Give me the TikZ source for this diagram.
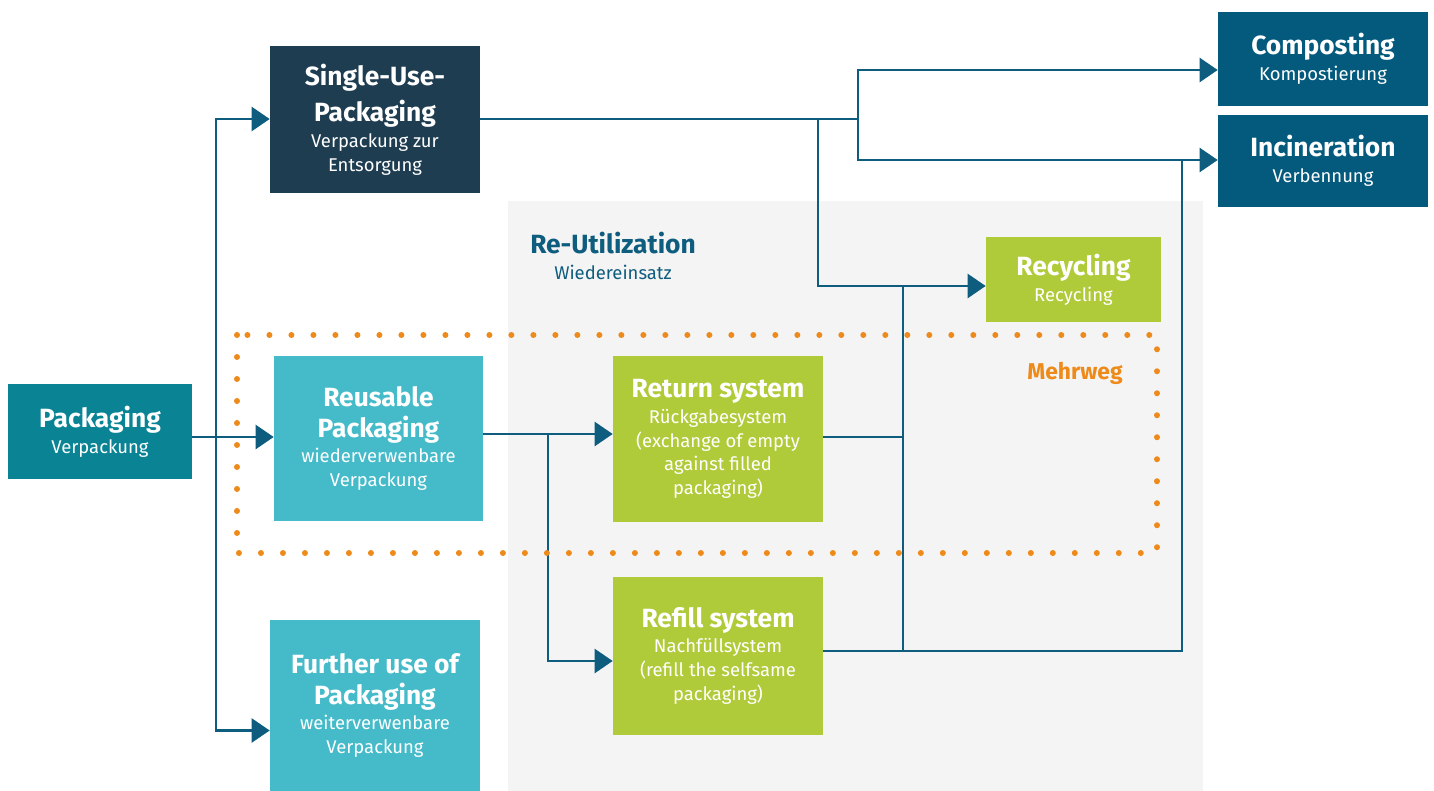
\documentclass[tikz,border=0pt]{standalone}
\usepackage{fontspec}
\setmainfont{Fira Sans}
\usetikzlibrary{arrows.meta,positioning}
\definecolor{linie}{HTML}{0E5C7E}
\definecolor{petrol}{HTML}{0A8495}
\definecolor{nacht}{HTML}{1E3D51}
\definecolor{tuerkis}{HTML}{45BBCA}
\definecolor{gruen}{HTML}{B0CB3A}
\definecolor{ozean}{HTML}{045A7D}
\definecolor{grau}{HTML}{F4F4F4}
\definecolor{orange}{HTML}{EE8A1A}
\newcommand{\titel}[1]{{\fontsize{15}{17.5}\selectfont\bfseries #1}}
\tikzset{
  kasten/.style={rectangle,draw=none,text=white,align=center,inner sep=2pt,
    font=\fontsize{10.5}{13.6}\selectfont},
  pfeil/.style={draw=linie,line width=0.05cm,-{Triangle[length=0.36cm,width=0.48cm]}},
  linie/.style={draw=linie,line width=0.05cm}
}
\begin{document}
\begin{tikzpicture}[x=0.02cm,y=-0.02cm]
\useasboundingbox (0,0) rectangle (1434,791);
\fill[grau] (508,201) rectangle (1203,791);
\node[align=center,text=linie,font=\fontsize{10.5}{13.6}\selectfont] (reu) at (613,256) {\titel{Re-Utilization}\\[1pt]Wiedereinsatz};

% Verpackungen
\node[kasten,fill=petrol,minimum width=3.68cm,minimum height=1.9cm] (pk) at (100,431.5) {\titel{Packaging}\\[1pt]Verpackung};
\node[kasten,fill=nacht,minimum width=4.2cm,minimum height=2.94cm] (su) at (375,119.5) {\titel{Single-Use-}\\[4pt]\titel{Packaging}\\[1pt]Verpackung zur\\Entsorgung};
\node[kasten,fill=tuerkis,minimum width=4.18cm,minimum height=3.3cm] (ru) at (378.5,438.5) {\titel{Reusable}\\[4pt]\titel{Packaging}\\[1pt]wiederverwenbare\\Verpackung};
\node[kasten,fill=tuerkis,minimum width=4.2cm,minimum height=3.42cm] (fu) at (375,705.5) {\titel{Further use of}\\[4pt]\titel{Packaging}\\[1pt]weiterverwenbare\\Verpackung};

% Systeme
\node[kasten,fill=gruen,minimum width=4.2cm,minimum height=3.32cm] (rs) at (718,439) {\titel{Return system}\\[1pt]R\"uckgabesystem\\(exchange of empty\\against filled\\packaging)};
\node[kasten,fill=gruen,minimum width=4.2cm,minimum height=3.16cm] (fs) at (718,656) {\titel{Refill system}\\[1pt]Nachf\"ullsystem\\(refill the selfsame\\packaging)};

% Verwertung
\node[kasten,fill=gruen,minimum width=3.5cm,minimum height=1.7cm] (rc) at (1073.5,279.5) {\titel{Recycling}\\[1pt]Recycling};
\node[kasten,fill=ozean,minimum width=4.2cm,minimum height=1.88cm] (co) at (1323,59) {\titel{Composting}\\[1pt]Kompostierung};
\node[kasten,fill=ozean,minimum width=4.2cm,minimum height=1.84cm] (in) at (1323,161) {\titel{Incineration}\\[1pt]Verbennung};

% Verzweigungen
\coordinate (sp) at (216,437);
\coordinate (ga) at (858,119);
\coordinate (ab) at (818,119);
\coordinate (ms) at (548,434);
\coordinate (rj) at (903,286);
\coordinate (rb) at (903,651);
\coordinate (ij) at (1182,160);

\draw[pfeil] (pk.east |- sp) -- (sp -| ru.west);
\draw[pfeil] (sp) |- (su.west |- 0,119);
\draw[pfeil] (sp) |- ([yshift=-0.5cm]fu.west);

\draw[linie] (su.east |- ga) -- (ga);
\draw[pfeil] (ga) |- ([yshift=-0.22cm]co.west);
\draw[pfeil] (ga) |- (in.west |- ij);
\draw[pfeil] (ab) |- (rc.west |- rj);

\draw[pfeil] (ru.east |- ms) -- (ms -| rs.west);
\draw[pfeil] (ms) |- ([yshift=-0.1cm]fs.west);

\draw[linie] (rs.east |- 0,437) -- (903,437);
\draw[linie] (rb) -- (rj);
\draw[linie] (fs.east |- rb) -| (ij);

% Mehrweg
\draw[orange,line width=0.12cm,line cap=round,dash pattern=on 0pt off 0.44cm] (237,335) rectangle (1157,553);
\node[text=orange,font=\fontsize{13}{15}\selectfont\bfseries] (mw) at (1075,373) {Mehrweg};
\end{tikzpicture}
\end{document}
